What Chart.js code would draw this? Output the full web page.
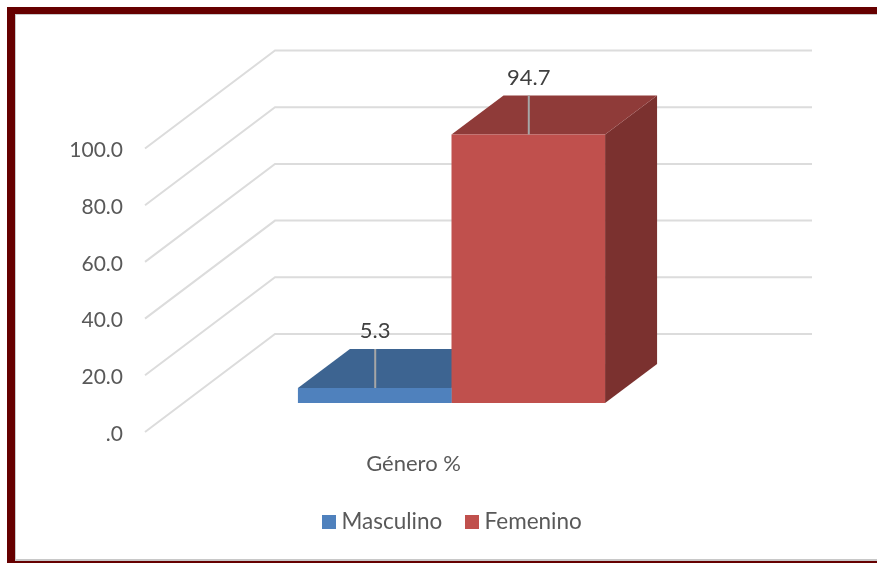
<!DOCTYPE html>
<html>
<head>
<meta charset="utf-8">
<script src="https://cdn.jsdelivr.net/npm/chart.js@4/dist/chart.umd.min.js"></script>
<style>
html,body{margin:0;padding:0;background:#fff;overflow:hidden}
#wrap{position:relative;width:877px;height:563px}
#frame{position:absolute;left:7px;top:7px;width:862px;height:547px;border-left:8px solid #660000;border-top:7px solid #660000;border-bottom:2px solid #660000;border-right:0;box-shadow:inset 1px 1px 0 #c8c8c8,inset 0 -2px 0 #c8c8c8}
canvas{position:absolute;left:0;top:0}
</style>
</head>
<body>
<div id="wrap">
<div id="frame"></div>
<canvas id="c" width="877" height="563"></canvas>
</div>
<script>
const categories = ["Género %"];
const seriesNames = ["Masculino", "Femenino"];
const masculino = [5.3];
const femenino = [94.7];
const yTicks = [0, 20, 40, 60, 80, 100];

const FONT = "Lato, Carlito, sans-serif";
const FRONT = ["#4f81bd", "#c0504d"];
const TOP = ["#3d6491", "#8f3b39"];
const SIDE = ["#345478", "#7b312f"];

const FLOOR = {dx: 130, dy: 98};   // wall offset
const SHIFT = {dx: 38, dy: 29};    // bar front offset from the floor's front edge
const DEPTH = {dx: 52, dy: 39};    // bar depth

function swatch(color){
  const s = document.createElement("canvas");
  s.width = 14; s.height = 14;
  const g = s.getContext("2d");
  g.fillStyle = color; g.fillRect(0,0,14,14);
  return s;
}

const plugin3d = {
  id: "plugin3d",
  afterLayout(chart){
    chart.legend.left = 32;
    chart.legend.right = 877;
  },
  beforeDatasetsDraw(chart){
    const {ctx, chartArea:a, scales:{y}} = chart;
    ctx.save();
    ctx.strokeStyle = "#dcdcdc";
    ctx.lineWidth = 2;
    yTicks.forEach(v => {
      const py = y.getPixelForValue(v);
      ctx.beginPath();
      ctx.moveTo(a.left, py);
      ctx.lineTo(a.left + FLOOR.dx, py - FLOOR.dy);
      ctx.lineTo(a.right + FLOOR.dx, py - FLOOR.dy);
      ctx.stroke();
    });
    chart.data.datasets.forEach((ds,i) => {
      const b = chart.getDatasetMeta(i).data[0];
      const l = b.x - b.width/2 + SHIFT.dx, r = b.x + b.width/2 + SHIFT.dx;
      const t = b.y - SHIFT.dy, f = b.base - SHIFT.dy;
      ctx.fillStyle = SIDE[i];
      ctx.beginPath();
      ctx.moveTo(r,t); ctx.lineTo(r+DEPTH.dx,t-DEPTH.dy); ctx.lineTo(r+DEPTH.dx,f-DEPTH.dy); ctx.lineTo(r,f);
      ctx.closePath(); ctx.fill();
      ctx.fillStyle = TOP[i];
      ctx.beginPath();
      ctx.moveTo(l,t); ctx.lineTo(l+DEPTH.dx,t-DEPTH.dy); ctx.lineTo(r+DEPTH.dx,t-DEPTH.dy); ctx.lineTo(r,t);
      ctx.closePath(); ctx.fill();
    });
    ctx.restore();
  },
  beforeDatasetDraw(chart){
    chart.ctx.save();
    chart.ctx.translate(SHIFT.dx, -SHIFT.dy);
  },
  afterDatasetDraw(chart){
    chart.ctx.restore();
  },
  afterDatasetsDraw(chart){
    const {ctx} = chart;
    chart.data.datasets.forEach((ds,i) => {
      const b = chart.getDatasetMeta(i).data[0];
      const cx = b.x + SHIFT.dx + 0.5, t = b.y - SHIFT.dy;
      ctx.save();
      ctx.strokeStyle = "#a6a6a6";
      ctx.lineWidth = 2;
      ctx.beginPath();
      ctx.moveTo(cx, t);
      ctx.lineTo(cx, t - DEPTH.dy);
      ctx.stroke();
      ctx.fillStyle = "#404040";
      ctx.font = "22px " + FONT;
      ctx.textAlign = "center";
      ctx.textBaseline = "middle";
      ctx.fillText(ds.data[0].toFixed(1), cx, t - DEPTH.dy - 18);
      ctx.restore();
    });
  }
};

new Chart(document.getElementById("c"), {
  type: "bar",
  data: {
    labels: categories,
    datasets: [
      {label: seriesNames[0], data: masculino, backgroundColor: FRONT[0], pointStyle: swatch(FRONT[0])},
      {label: seriesNames[1], data: femenino, backgroundColor: FRONT[1], pointStyle: swatch(FRONT[1])}
    ]
  },
  options: {
    responsive: false,
    animation: false,
    layout: {padding: {left: 0, right: 195, top: 148.5, bottom: 20}},
    datasets: {bar: {barPercentage: 1, categoryPercentage: 0.572}},
    scales: {
      x: {
        grid: {display: false},
        border: {display: false},
        ticks: {color: "#595959", font: {family: FONT, size: 22}, padding: 11},
        afterFit(s){ s.height = 50.5; }
      },
      y: {
        min: 0, max: 100,
        afterBuildTicks(s){ s.ticks = yTicks.map(v => ({value: v})); },
        grid: {display: false},
        border: {display: false},
        ticks: {
          color: "#595959", font: {family: FONT, size: 21}, padding: 14,
          callback: v => v === 0 ? ".0" : v.toFixed(1)
        },
        afterFit(s){
          s.width = 145;
          if (!s.shifted) {
            const drawLabels = s.drawLabels;
            s.drawLabels = function(a){
              this.ctx.save();
              this.ctx.translate(0, 2);
              drawLabels.call(this, a);
              this.ctx.restore();
            };
            s.shifted = true;
          }
        }
      }
    },
    plugins: {
      title: {display: false},
      tooltip: {enabled: false},
      legend: {
        position: "bottom",
        labels: {
          usePointStyle: true, pointStyleWidth: 3, boxHeight: 14,
          padding: 28, color: "#595959", font: {family: FONT, size: 22.5}
        }
      }
    }
  },
  plugins: [plugin3d]
});
</script>
</body>
</html>
